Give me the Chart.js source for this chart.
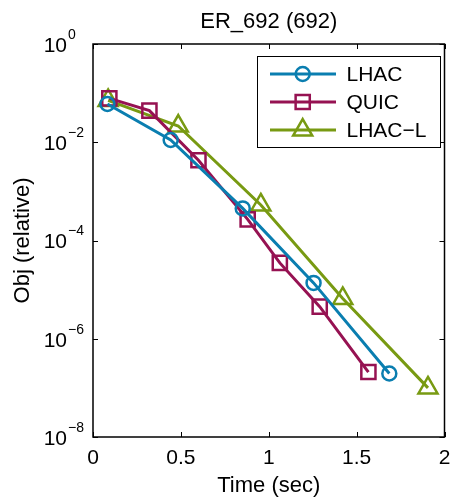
<!DOCTYPE html>
<html>
<head>
<meta charset="utf-8">
<script src="https://cdn.jsdelivr.net/npm/chart.js@4/dist/chart.umd.min.js"></script>
<style>
  html, body { margin: 0; padding: 0; background: #fff; }
  #wrap { width: 458px; height: 502px; }
</style>
</head>
<body>
<div id="wrap"><canvas id="chart" width="458" height="502"></canvas></div>
<script>
// values (time in sec, relative objective)
const lhacTime = [0.082, 0.442, 0.852, 1.255, 1.686]
const lhacObj = [0.060, 0.0111, 4.5e-4, 1.37e-5, 1.96e-7]

const quicTime = [0.093, 0.321, 0.600, 0.880, 1.063, 1.290, 1.567]
const quicObj = [0.078, 0.044, 0.0043, 2.7e-4, 3.5e-5, 4.5e-6, 2.1e-7]

const lhacLTime = [0.086, 0.485, 0.955, 1.421, 1.906]
const lhacLObj = [0.071, 0.0214, 5.3e-4, 6.6e-6, 1.0e-7]

const seriesNames = ['LHAC', 'QUIC', 'LHAC\u2212L']
const xTicks = [0, 0.5, 1, 1.5, 2]
const xTickLabels = ['0', '0.5', '1', '1.5', '2']
const yTickExps = [0, -2, -4, -6, -8]

const titleText = 'ER_692 (692)'
const xTitle = 'Time (sec)'
const yTitle = 'Obj (relative)'

const FONT = '"Liberation Sans", Arial, Helvetica, sans-serif'
const BLUE = 'rgb(10, 126, 176)'
const PURPLE = 'rgb(150, 18, 82)'
const GREEN = 'rgb(120, 154, 18)'

function toPoints(xs, ys) {
  return xs.map((x, i) => ({x: x, y: ys[i]}))
}

function dataset(label, xs, ys, color, style, radius) {
  return {
    label: label,
    data: toPoints(xs, ys),
    showLine: true,
    borderColor: color,
    borderWidth: 3,
    pointStyle: style,
    pointRadius: radius,
    pointBorderWidth: 2.5,
    pointBorderColor: color,
    pointBackgroundColor: 'rgba(0,0,0,0)',
    tension: 0
  }
}

// MATLAB style frame, inward ticks, labels and legend
const matlabAxes = {
  id: 'matlabAxes',
  afterDraw(chart) {
    const ctx = chart.ctx
    const a = chart.chartArea
    const xs = chart.scales.x
    const ys = chart.scales.y
    const tickLen = 5

    ctx.save()
    ctx.strokeStyle = '#000'
    ctx.lineWidth = 1.5
    ctx.strokeRect(a.left, a.top, a.right - a.left, a.bottom - a.top)

    // ticks
    ctx.lineWidth = 1
    ctx.beginPath()
    xTicks.forEach(v => {
      const px = Math.round(xs.getPixelForValue(v)) + 0.5
      ctx.moveTo(px, a.bottom); ctx.lineTo(px, a.bottom - tickLen)
      ctx.moveTo(px, a.top); ctx.lineTo(px, a.top + tickLen)
    })
    yTickExps.forEach(e => {
      const py = Math.round(ys.getPixelForValue(Math.pow(10, e))) + 0.5
      ctx.moveTo(a.left, py); ctx.lineTo(a.left + tickLen, py)
      ctx.moveTo(a.right, py); ctx.lineTo(a.right - tickLen, py)
    })
    ctx.stroke()

    ctx.fillStyle = '#000'
    // x tick labels
    ctx.font = '21px ' + FONT
    ctx.textAlign = 'center'
    ctx.textBaseline = 'middle'
    xTicks.forEach((v, i) => {
      ctx.fillText(xTickLabels[i], xs.getPixelForValue(v), a.bottom + 21)
    })

    // y tick labels 10^e
    yTickExps.forEach(e => {
      const py = ys.getPixelForValue(Math.pow(10, e))
      ctx.font = '21px ' + FONT
      ctx.textAlign = 'right'
      ctx.textBaseline = 'middle'
      ctx.fillText('10', 67, py + 2)
      ctx.font = '14px ' + FONT
      ctx.textAlign = 'left'
      ctx.fillText(e === 0 ? '0' : '\u2212' + Math.abs(e), 68, py - 9)
    })

    // titles
    ctx.font = '22px ' + FONT
    ctx.textAlign = 'center'
    ctx.textBaseline = 'middle'
    ctx.fillText(titleText, (a.left + a.right) / 2, 22)
    ctx.fillText(xTitle, (a.left + a.right) / 2, 486)
    ctx.save()
    ctx.translate(23, (a.top + a.bottom) / 2)
    ctx.rotate(-Math.PI / 2)
    ctx.fillText(yTitle, 0, 0)
    ctx.restore()

    // legend
    const lx = 257, ly = 56, lw = 183, lh = 91
    ctx.fillStyle = '#fff'
    ctx.fillRect(lx, ly, lw, lh)
    ctx.strokeStyle = '#000'
    ctx.lineWidth = 1
    ctx.strokeRect(lx + 0.5, ly + 0.5, lw, lh)
    chart.data.datasets.forEach((ds, i) => {
      const y = 74 + 28 * i
      ctx.strokeStyle = ds.borderColor
      ctx.lineWidth = 3
      ctx.beginPath()
      ctx.moveTo(270, y); ctx.lineTo(336, y)
      ctx.stroke()
      ctx.lineWidth = ds.pointBorderWidth
      ctx.fillStyle = 'rgba(0,0,0,0)'
      Chart.helpers.drawPoint(ctx, {
        pointStyle: ds.pointStyle,
        radius: ds.pointRadius,
        rotation: 0,
        borderWidth: ds.pointBorderWidth
      }, 302.7, y)
      ctx.fillStyle = '#000'
      ctx.font = '21px ' + FONT
      ctx.textAlign = 'left'
      ctx.textBaseline = 'middle'
      ctx.fillText(seriesNames[i], 346.5, y + 1)
    })
    ctx.restore()
  }
}

new Chart(document.getElementById('chart'), {
  type: 'scatter',
  data: {
    datasets: [
      dataset(seriesNames[0], lhacTime, lhacObj, BLUE, 'circle', 7),
      dataset(seriesNames[1], quicTime, quicObj, PURPLE, 'rect', 10),
      dataset(seriesNames[2], lhacLTime, lhacLObj, GREEN, 'triangle', 11)
    ]
  },
  options: {
    responsive: false,
    animation: false,
    layout: { padding: { left: 93, top: 44, right: 8, bottom: 65 } },
    scales: {
      x: { type: 'linear', min: 0, max: 2, display: false },
      y: { type: 'logarithmic', min: 1e-8, max: 1, display: false }
    },
    plugins: {
      legend: { display: false },
      tooltip: { enabled: false }
    }
  },
  plugins: [matlabAxes]
})
</script>
</body>
</html>
